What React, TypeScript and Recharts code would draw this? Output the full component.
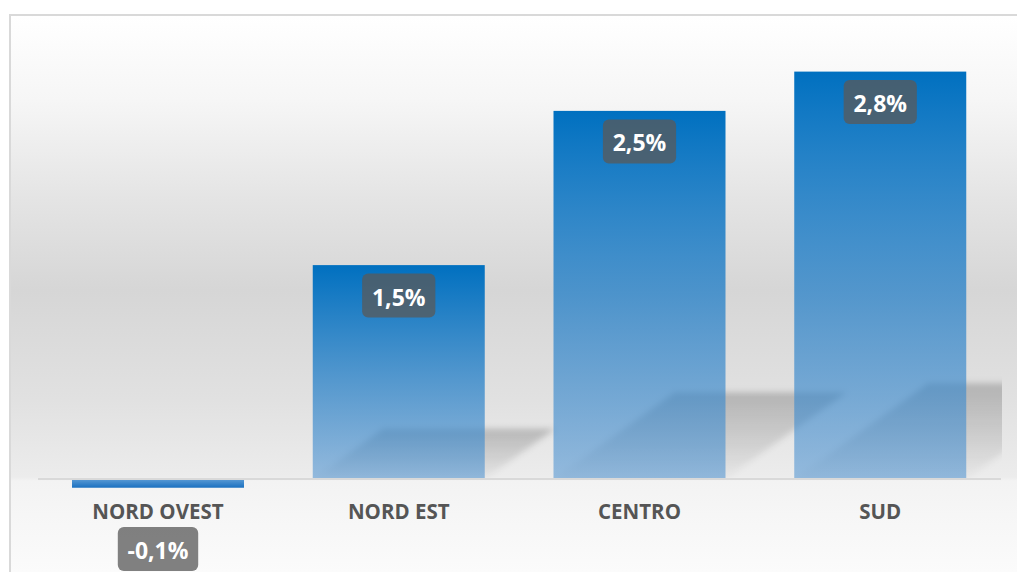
import React from 'react';
import { BarChart, Bar, XAxis, YAxis, ReferenceLine, LabelList } from 'recharts';

const categories = ['NORD OVEST', 'NORD EST', 'CENTRO', 'SUD'];
const values = [-0.06, 1.47, 2.53, 2.8];
const data = categories.map((name, i) => ({ name, value: values[i] }));

const fmt = (v: number) => v.toFixed(1).replace('.', ',') + '%';

const PLOT_LEFT = 38;
const PLOT_RIGHT = 1002;

const BarShape = (props: any) => {
  const { x, y, width, height, value } = props;
  const top = Math.min(y, y + height);
  const h = Math.abs(height);
  if (value >= 0) {
    const base = top + h;
    const sh = 0.235 * h;
    const d = 1.4 * sh;
    const pts = `${x},${base} ${x + width},${base} ${x + width + d},${base - sh} ${x + d},${base - sh}`;
    return (
      <g>
        <polygon points={pts} fill="url(#shadowGrad)" filter="url(#shadowBlur)" clipPath="url(#plotClip)" />
        <rect x={x} y={top} width={width} height={h} fill="url(#barGradPos)" />
      </g>
    );
  }
  return <rect x={x} y={top} width={width} height={h} fill="url(#barGradNeg)" />;
};

const boxW = (t: string) => {
  let w = 0;
  for (const c of t) {
    if (c === ',') w += 6.4;
    else if (c === '%') w += 19.6;
    else if (c === '-') w += 7.2;
    else w += 12.6;
  }
  return w + 22;
};

const ValueLabel = (props: any) => {
  const { x, y, width, height, index } = props;
  const v = values[index];
  const top = Math.min(y, y + height);
  const h = Math.abs(height);
  const cx = x + width / 2;
  const t = fmt(v);
  const bw = boxW(t);
  const bh = 44;
  const boxTop = v >= 0 ? top + 8.5 : top + 48;
  return (
    <g>
      <rect x={cx - bw / 2} y={boxTop} width={bw} height={bh} rx={6} ry={6} fill="#595959" fillOpacity={0.76} />
      <text
        x={cx}
        y={boxTop + bh / 2 + 1}
        textAnchor="middle"
        dominantBaseline="central"
        fill="#ffffff"
        fontFamily="'Open Sans', sans-serif"
        fontWeight={700}
        fontSize={23}
      >
        {t}
      </text>
    </g>
  );
};

const CategoryLabel = (props: any) => {
  const { x, y, width, height, index } = props;
  const v = values[index];
  const top = Math.min(y, y + height);
  const h = Math.abs(height);
  const base = v >= 0 ? top + h : top;
  return (
    <text
      x={x + width / 2}
      y={base + 32}
      textAnchor="middle"
      dominantBaseline="central"
      fill="#555555"
      fontFamily="'Open Sans', sans-serif"
      fontWeight={700}
      fontSize={20.5}
    >
      {categories[index]}
    </text>
  );
};

export default function App() {
  return (
    <div style={{ position: 'absolute', left: 0, top: 0, width: 1017, height: 572, overflow: 'hidden', background: '#ffffff' }}>
      <svg width={0} height={0} style={{ position: 'absolute' }}>
        <defs>
          <linearGradient id="barGradPos" x1="0" y1="0" x2="0" y2="1">
            <stop offset="0" stopColor="#0070c0" stopOpacity={1} />
            <stop offset="1" stopColor="#4a90d0" stopOpacity={0.55} />
          </linearGradient>
          <linearGradient id="barGradNeg" x1="0" y1="0" x2="0" y2="1">
            <stop offset="0" stopColor="#5b9bd5" stopOpacity={1} />
            <stop offset="1" stopColor="#1a70c0" stopOpacity={1} />
          </linearGradient>
          <linearGradient id="shadowGrad" x1="0" y1="0" x2="0" y2="1">
            <stop offset="0" stopColor="#000000" stopOpacity={0.2} />
            <stop offset="0.6" stopColor="#000000" stopOpacity={0.1} />
            <stop offset="1" stopColor="#000000" stopOpacity={0.02} />
          </linearGradient>
          <filter id="shadowBlur" x="-20%" y="-20%" width="140%" height="140%">
            <feGaussianBlur stdDeviation="3" />
          </filter>
          <clipPath id="plotClip" clipPathUnits="userSpaceOnUse">
            <rect x={PLOT_LEFT} y={0} width={PLOT_RIGHT - PLOT_LEFT} height={479} />
          </clipPath>
        </defs>
      </svg>
      <div
        style={{
          position: 'absolute',
          left: 9,
          top: 14,
          width: 1100,
          height: 600,
          borderLeft: '2px solid #d9d9d9',
          borderTop: '2px solid #d9d9d9',
          background:
            'linear-gradient(to bottom, #ffffff 0px, #f6f6f6 84px, #e4e4e4 184px, #d6d6d6 274px, #e1e1e1 384px, #ececec 461px, #f3f3f3 465px, #fbfbfb 556px)',
        }}
      />
      <div style={{ position: 'absolute', left: 0, top: 0 }}>
        <BarChart
          width={1017}
          height={572}
          data={data}
          margin={{ top: 42.5, right: 1017 - 1001, bottom: 5.7, left: PLOT_LEFT }}
          barSize={172}
        >
          <XAxis dataKey="name" hide />
          <YAxis hide domain={[-0.6, 3.0]} type="number" allowDataOverflow />
          <Bar dataKey="value" shape={<BarShape />} isAnimationActive={false}>
            <LabelList dataKey="value" content={<ValueLabel />} />
            <LabelList dataKey="name" content={<CategoryLabel />} />
          </Bar>
          <ReferenceLine y={0} stroke="#d9d9d9" strokeWidth={2} />
        </BarChart>
      </div>
    </div>
  );
}
